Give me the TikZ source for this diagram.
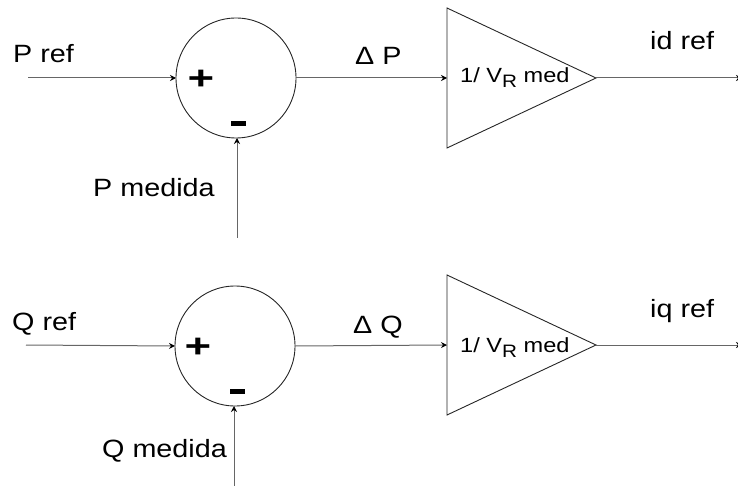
\documentclass[tikz,border=0pt]{standalone}
\usepackage{fontspec}
\setmainfont[FakeStretch=1.15]{Liberation Sans}
\usetikzlibrary{arrows.meta,shapes.geometric}
\begin{document}
\begin{tikzpicture}[x=1pt,y=-1pt,
  sumnode/.style={circle,draw=black!85,line width=0.9pt,minimum size=120pt,inner sep=0pt,outer sep=0pt},
  gainnode/.style={isosceles triangle,isosceles triangle stretches,draw=black!85,line width=0.9pt,
    minimum width=140pt,minimum height=149pt,inner sep=0pt,outer sep=0pt,anchor=apex},
  signal/.style={draw=black!60,line width=1pt,-{Stealth[length=6pt,width=6pt,color=black]}},
  lbl/.style={anchor=base west,inner sep=0pt,font=\fontsize{25}{25}\selectfont},
  gaintext/.style={anchor=base west,inner sep=0pt,font=\fontsize{20.5}{20.5}\selectfont},
  plus/.style={inner sep=0pt,font=\fontsize{33}{33}\selectfont\bfseries},
  minus/.style={inner sep=0pt,fill=black,minimum width=15pt,minimum height=5pt}]
\useasboundingbox (0,0) rectangle (738,486);

% ---- active power branch ----
\node[sumnode] (sumP) at (236,78) {};
\node[plus] (plusP) at (201,80) {\scalebox{1.2}[1]{+}};
\node[minus] (minusP) at (238,124) {};
\node[gainnode] (gainP) at (596,78) {};
\node[gaintext] (kP) at (460,83) {1/ V\raisebox{-5pt}{\fontsize{18}{18}\selectfont R} med};
\coordinate (inP) at (28,78);
\coordinate (measP) at (237,238);
\coordinate (outP) at (742,78);
\draw[signal] (inP) -- (sumP.west);
\draw[signal] (measP) -- (measP |- sumP.south);
\draw[signal] (sumP.east) -- (gainP.west);
\draw[signal] (gainP.apex) -- (outP);
\node[lbl] (lPref) at (13,63) {P ref};
\node[lbl] (lPmed) at (93,197) {P medida};
\node[lbl] (lDP) at (355,65) {Δ P};
\node[lbl] (lid) at (650,50) {id ref};

% ---- reactive power branch ----
\node[sumnode] (sumQ) at (235,346) {};
\node[plus] (plusQ) at (198,348) {\scalebox{1.2}[1]{+}};
\node[minus] (minusQ) at (237,391) {};
\node[gainnode] (gainQ) at (596,345) {};
\node[gaintext] (kQ) at (460,352) {1/ V\raisebox{-5pt}{\fontsize{18}{18}\selectfont R} med};
\coordinate (inQ) at (26,345);
\coordinate (measQ) at (234,490);
\coordinate (outQ) at (742,345);
\draw[signal] (inQ) -- (sumQ.west);
\draw[signal] (measQ) -- (measQ |- sumQ.south);
\draw[signal] (sumQ.east) -- (gainQ.west);
\draw[signal] (gainQ.apex) -- (outQ);
\node[lbl] (lQref) at (12,330) {Q ref};
\node[lbl] (lQmed) at (102,457) {Q medida};
\node[lbl] (lDQ) at (353,333) {Δ Q};
\node[lbl] (liq) at (650,317) {iq ref};
\end{tikzpicture}
\end{document}
